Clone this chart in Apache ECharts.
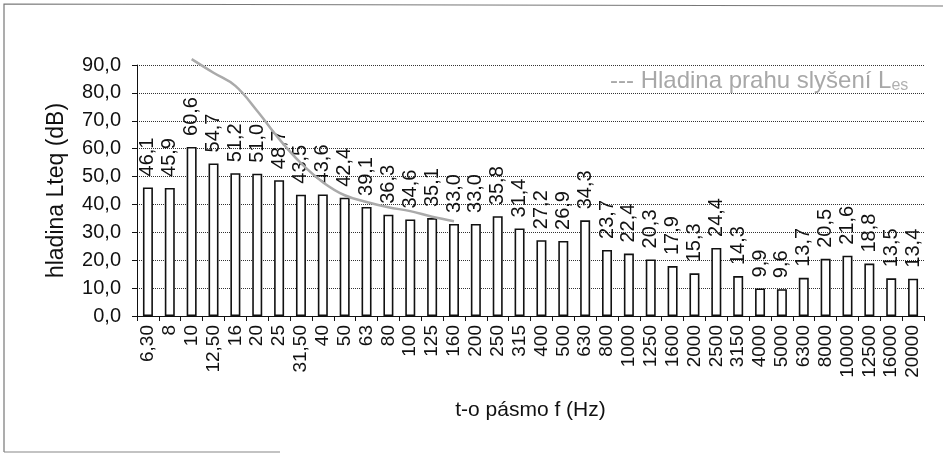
<!DOCTYPE html>
<html>
<head>
<meta charset="utf-8">
<script src="https://cdn.jsdelivr.net/npm/echarts@6/dist/echarts.min.js"></script>
<style>html,body{margin:0;padding:0;background:#fff;}#c{width:943px;height:455px;}</style>
</head>
<body>
<div id="c"></div>
<script>
var categories = ['6,30','8','10','12,50','16','20','25','31,50','40','50','63','80','100','125','160','200','250','315','400','500','630','800','1000','1250','1600','2000','2500','3150','4000','5000','6300','8000','10000','12500','16000','20000'];
var levels = [46.1,45.9,60.6,54.7,51.2,51.0,48.7,43.5,43.6,42.4,39.1,36.3,34.6,35.1,33.0,33.0,35.8,31.4,27.2,26.9,34.3,23.7,22.4,20.3,17.9,15.3,24.4,14.3,9.9,9.6,13.7,20.5,21.6,18.8,13.5,13.4];
var threshold = [null,null,92.1,87.2,82.5,73.5,63.5,54.8,48.0,43.3,40.9,39.0,37.6,35.6,34.0,null,null,null,null,null,null,null,null,null,null,null,null,null,null,null,null,null,null,null,null,null];
var yTicks = {min:0, max:90, interval:10};

function fmt(v){ return v.toFixed(1).replace('.', ','); }

var FONT = 'Liberation Sans, Arial, sans-serif';
var chart = echarts.init(document.getElementById('c'));
chart.setOption({
  animation:false,
  backgroundColor:'#fff',
  textStyle:{fontFamily:FONT},
  grid:{left:137, right:19, top:65, bottom:139},
  legend:{
    show:true, left:605, top:69, padding:0, icon:'none', itemWidth:0, itemGap:0,
    data:['threshold'],
    formatter:function(){ return '--- Hladina prahu slyšení L{s|es}'; },
    textStyle:{color:'#a8a8a8', fontSize:24, fontFamily:FONT,
      rich:{s:{fontSize:16, color:'#b0b0b0', fontFamily:FONT, padding:[10,0,0,0]}}}
  },
  xAxis:{
    type:'category', data:categories, boundaryGap:true,
    name:'t-o pásmo f (Hz)', nameLocation:'middle', nameGap:84,
    nameTextStyle:{color:'#111', fontSize:21, verticalAlign:'top'},
    axisLine:{lineStyle:{color:'#111', width:1}},
    axisTick:{show:true, length:5, alignWithLabel:false, lineStyle:{color:'#111'}},
    axisLabel:{rotate:90, interval:0, color:'#111', fontSize:19, margin:9, fontFamily:FONT}
  },
  yAxis:{
    type:'value', min:yTicks.min, max:yTicks.max, interval:yTicks.interval,
    name:'hladina Lteq (dB)', nameLocation:'middle', nameGap:69,
    nameTextStyle:{color:'#111', fontSize:23},
    axisLine:{show:true, lineStyle:{color:'#111', width:1}},
    axisTick:{show:true, length:5, lineStyle:{color:'#111'}},
    axisLabel:{color:'#111', fontSize:20, margin:16, fontFamily:FONT, formatter:function(v){return fmt(v);}},
    splitLine:{show:true, lineStyle:{color:'#333', type:'dotted', width:1}}
  },
  series:[
    {
      name:'levels', type:'bar', data:levels, barWidth:10,
      itemStyle:{color:'#fff', borderColor:'#111', borderWidth:1.6},
      label:{show:true, position:'top', rotate:90, align:'left', verticalAlign:'middle', distance:11,
        color:'#111', fontSize:20, fontFamily:FONT, formatter:function(p){return fmt(p.value);}}
    },
    {
      name:'threshold', type:'line', data:threshold, smooth:0.4, symbol:'none',
      connectNulls:false, clip:false,
      lineStyle:{color:'#aaa', width:2.5}
    }
  ],
  graphic:[
    {type:'polyline', shape:{points:[[4,452],[4,4],[943,6]]}, style:{stroke:'#777', lineWidth:1.2, fill:null}},
    {type:'line', shape:{x1:4, y1:452, x2:280, y2:452}, style:{stroke:'#888', lineWidth:1.2}}
  ]
});
</script>
</body>
</html>
